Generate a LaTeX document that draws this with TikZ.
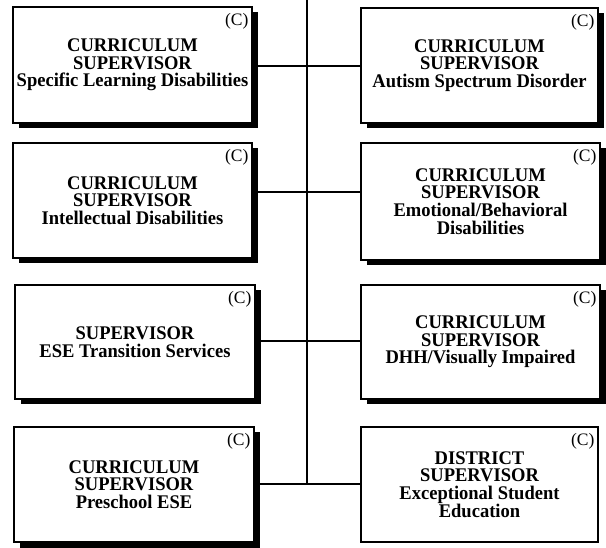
\documentclass[tikz,border=0pt]{standalone}
\usepackage{fontspec}
\setmainfont{Liberation Serif}
\newfontfamily\boxfont[FakeStretch=0.96]{Liberation Serif}
\usetikzlibrary{shadows}
\begin{document}
\begin{tikzpicture}[x=1pt,y=1pt,
  orgbox/.style={draw=black, line width=1.2pt, fill=white, rectangle, align=center,
    inner sep=0pt, font=\boxfont\bfseries\fontsize{19.3}{17.6}\selectfont},
  shadowed/.style={drop shadow={shadow xshift=5.5pt, shadow yshift=-5.5pt, fill=black, opacity=1}},
  cmark/.style={anchor=north east, inner sep=0pt, font=\fontsize{17.5}{17.5}\selectfont, xshift=-4pt, yshift=-6.5pt},
  conn/.style={line width=1.4pt}]
\useasboundingbox (0,0) rectangle (606,-548);
% spine junctions
\coordinate (top) at (307,0);
\coordinate (j1) at (307,-66);
\coordinate (j2) at (307,-192);
\coordinate (j3) at (307,-341);
\coordinate (j4) at (307,-484);
% boxes
\node[orgbox, shadowed, minimum width=239pt, minimum height=116pt] (L1) at (132.5,-65)
  {CURRICULUM\\SUPERVISOR\\Specific Learning Disabilities};
\node[orgbox, shadowed, minimum width=237pt, minimum height=115pt] (R1) at (479.5,-65.5)
  {CURRICULUM\\SUPERVISOR\\Autism Spectrum Disorder};
\node[orgbox, shadowed, minimum width=239pt, minimum height=115pt] (L2) at (132.5,-200.5)
  {CURRICULUM\\SUPERVISOR\\Intellectual Disabilities};
\node[orgbox, shadowed, minimum width=239pt, minimum height=117pt] (R2) at (480.5,-201.5)
  {CURRICULUM\\SUPERVISOR\\Emotional/Behavioral\\Disabilities};
\node[orgbox, shadowed, minimum width=240pt, minimum height=114pt] (L3) at (135,-342)
  {SUPERVISOR\\ESE Transition Services};
\node[orgbox, shadowed, minimum width=239pt, minimum height=114pt] (R3) at (480.5,-342)
  {CURRICULUM\\SUPERVISOR\\DHH/Visually Impaired};
\node[orgbox, shadowed, minimum width=240pt, minimum height=115pt] (L4) at (134,-484.5)
  {CURRICULUM\\SUPERVISOR\\Preschool ESE};
\node[orgbox, minimum width=237pt, minimum height=115pt] (R4) at (479.5,-484.5)
  {DISTRICT\\SUPERVISOR\\Exceptional Student\\Education};
% (C) marks
\foreach \b in {L1,R1,L2,R2,L3,R3,L4,R4}
  \node[cmark] (c\b) at (\b.north east) {(C)};
% connectors
\draw[conn] (top) -- (j4);
\draw[conn] (j1 -| L1.east) -- (j1 -| R1.west);
\draw[conn] (j2 -| L2.east) -- (j2 -| R2.west);
\draw[conn] (j3 -| L3.east) -- (j3 -| R3.west);
\draw[conn] (j4 -| L4.east) -- (j4 -| R4.west);
\end{tikzpicture}
\end{document}
